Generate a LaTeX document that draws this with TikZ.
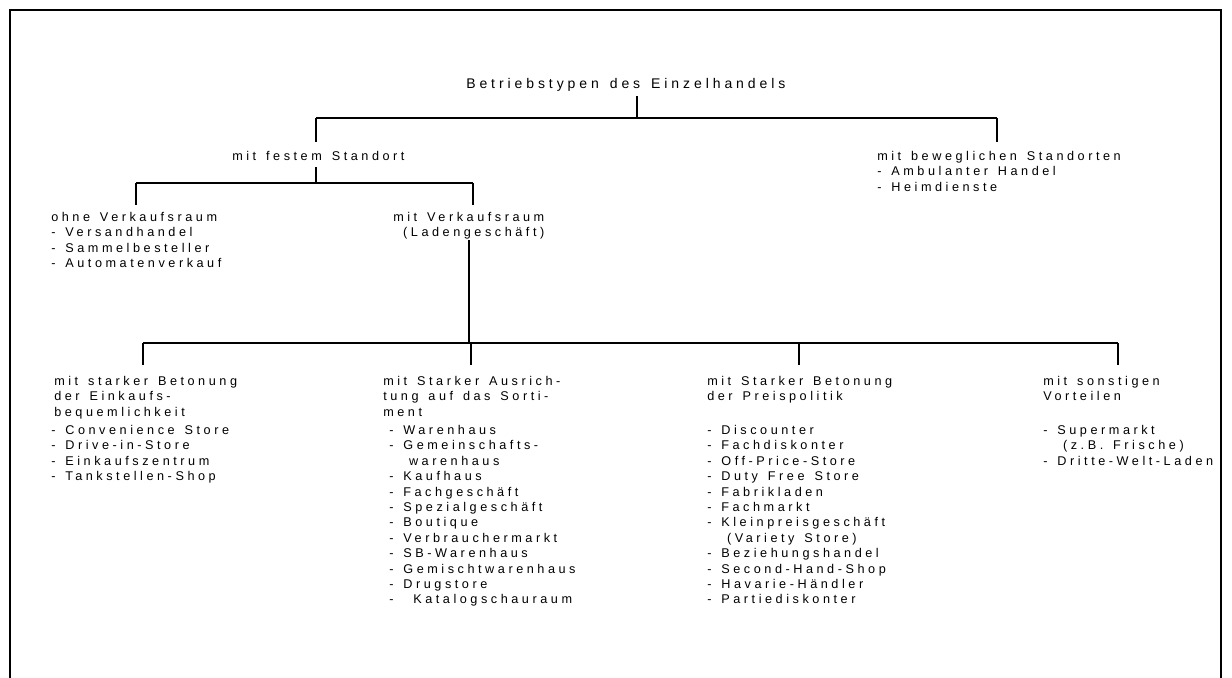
\documentclass[tikz,border=0pt]{standalone}
\usepackage{fontspec}
\setmainfont{Liberation Sans}[LetterSpace=28,WordSpace=1.4]
\usetikzlibrary{positioning}

\begin{document}
\begin{tikzpicture}[x=0.75pt,y=-0.75pt,
	txt/.style={anchor=north west,inner sep=0pt,align=left,
		font=\fontsize{9.5}{11.55}\selectfont},
	stem/.style={line width=1.6pt},
	bar/.style={line width=1.1pt}]
				\useasboundingbox (0,0) rectangle (1232,678);
				% frame, open at the bottom
				\draw[line width=1.5pt] (10,678) -- (10,10) -- (1221,10) -- (1221,678);
				% texts
				\node[txt,font=\fontsize{10.5}{12}\selectfont] (root) at (466,78) {Betriebstypen des Einzelhandels};
				\node[txt] (fest) at (232,151) {mit festem Standort};
				\node[txt] (beweg) at (877,151) {mit beweglichen Standorten\\- Ambulanter Handel\\- Heimdienste};
				\node[txt] (ohne) at (51,212) {ohne Verkaufsraum\\- Versandhandel\\- Sammelbesteller\\- Automatenverkauf};
				\node[txt] (mitv) at (393,212) {mit Verkaufsraum\\\ (Ladengeschäft)};
				\node[txt] (c_1) at (54,376) {mit starker Betonung\\der Einkaufs-\\bequemlichkeit};
				\node[txt] (l_1) at (51,425) {- Convenience Store\\- Drive-in-Store\\- Einkaufszentrum\\- Tankstellen-Shop};
				\node[txt] (c_2) at (383,376) {mit Starker Ausrich-\\tung auf das Sorti-\\ment};
				\node[txt] (l_2) at (389,425) {- Warenhaus\\- Gemeinschafts-\\\ \ warenhaus\\- Kaufhaus\\- Fachgeschäft\\- Spezialgeschäft\\- Boutique\\- Verbrauchermarkt\\- SB-Warenhaus\\- Gemischtwarenhaus\\- Drugstore\\- \ Katalogschauraum};
				\node[txt] (c_3) at (707,376) {mit Starker Betonung\\der Preispolitik};
				\node[txt] (l_3) at (707,425) {- Discounter\\- Fachdiskonter\\- Off-Price-Store\\- Duty Free Store\\- Fabrikladen\\- Fachmarkt\\- Kleinpreisgeschäft\\\ \ (Variety Store)\\- Beziehungshandel\\- Second-Hand-Shop\\- Havarie-Händler\\- Partiediskonter};
				\node[txt] (c_4) at (1043,376) {mit sonstigen\\Vorteilen};
				\node[txt] (l_4) at (1043,425) {- Supermarkt\\\ \ (z.B. Frische)\\- Dritte-Welt-Laden};
				% joints
				\coordinate (j_0) at (637,118);
				\coordinate (j_1) at (316,183);
				\coordinate (j_2) at (469,343);
				% tree
				\draw[stem] (637,96) -- (j_0);
				\draw[bar] (316,118) -- (997,118);
				\draw[stem] (316,118) -- (316,142);
				\draw[stem] (997,118) -- (997,142);
				\draw[stem] (316,167) -- (j_1);
				\draw[bar] (136,183) -- (473,183);
				\draw[stem] (136,183) -- (136,205);
				\draw[stem] (473,183) -- (473,205);
				\draw[stem] (469,240) -- (j_2);
				\draw[bar] (143,343) -- (1118,343);
				\foreach \x in {143,471,799,1118}
					\draw[stem] (\x,343) -- (\x,365);
			\end{tikzpicture}
\end{document}
